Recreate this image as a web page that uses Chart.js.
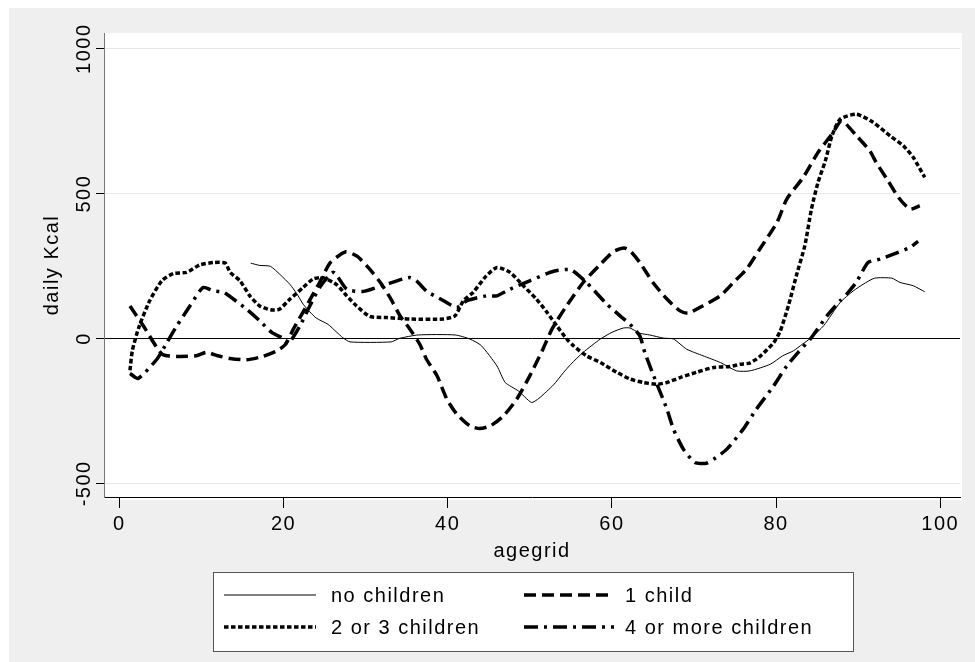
<!DOCTYPE html>
<html>
<head>
<meta charset="utf-8">
<script src="https://cdn.jsdelivr.net/npm/chart.js@4.4.0/dist/chart.umd.min.js"></script>
<style>
  html, body { margin: 0; padding: 0; background: #fff; }
  #wrap { position: relative; width: 975px; height: 662px; }
</style>
</head>
<body>
<div id="wrap"><canvas id="kcalChart"></canvas></div>
<script>
// daily Kcal by age, one pair of arrays per household group
const ageNone = [16, 17.1, 18.4, 19.6, 20.8, 21.6, 22.4, 23.2, 24, 25.4, 26.5, 27.2, 28.1, 33.1, 34.1, 36.4, 40.9, 42.7, 44.1, 46,
  47, 48.6, 50.2, 51.1, 52.9, 54.1, 55, 56.5, 58.6, 60, 61.4, 62.2, 63.4, 64.6, 66.3, 67.5, 69.1, 71.1, 73.2, 75.2,
  76.8, 79.3, 80.8, 82.1, 83.2, 84.3, 85.8, 87.8, 89.4, 90.6, 92, 94.1, 95.1, 96.7, 98.1];
const kcalNone = [260, 252, 249, 220, 186, 155, 118, 92, 70, 49, 21, 3, -12, -12, 0, 12, 12, -2, -25, -95,
  -152, -181, -221, -207, -160, -118, -89, -48, -2, 21, 36, 36, 18, 12, 1, -2, -37, -60, -83, -112,
  -112, -89, -60, -43, -20, 3, 44, 124, 164, 187, 208, 208, 193, 182, 161];

const ageOne = [1.3, 3, 5.2, 7, 9.4, 10.6, 12, 13.5, 15.5, 17.5, 19.2, 20.2, 21.2, 22.4, 24.4, 25.7, 27.6, 29, 30.5, 31.8,
  33, 34.2, 35.4, 36.6, 37.4, 38.7, 39.9, 41.1, 42.7, 43.9, 45.2, 46.8, 48.4, 50, 51.6, 52.7, 54.3, 56.5, 58.6, 60.2,
  61.5, 62.3, 63.4, 65, 66.7, 68.3, 69.3, 71.1, 73.2, 74.8, 76.4, 78, 80.1, 81.3, 83.3, 85.1, 86.8, 88, 89.8, 91.4,
  92.2, 93.5, 94.9, 96.3, 97.5];
const kcalOne = [112, 40, -54, -62, -60, -48, -60, -69, -74, -62, -43, -22, 32, 92, 193, 262, 299, 283, 239, 193,
  140, 78, 32, -20, -71, -129, -210, -261, -302, -311, -302, -267, -210, -129, -37, 32, 105, 193, 256, 300,
  312, 300, 262, 193, 136, 95, 87, 113, 147, 193, 239, 308, 400, 481, 556, 642, 705, 751, 699, 648,
  607, 550, 487, 446, 458];

const ageTwo = [1.3, 1.6, 2.4, 3.7, 5.2, 6.6, 8.2, 9.8, 11.5, 12.9, 13.5, 14.7, 15.9, 17.1, 18.4, 19.5, 20.8, 22.4, 23.6, 24.8,
  26.5, 27.7, 28.9, 30.5, 32.6, 35.4, 39.5, 40.9, 41.9, 43.1, 44.7, 46, 47.6, 49.2, 50.8, 52.1, 53.3, 54.5, 55.3, 56.9,
  58.6, 60.6, 62.2, 63.8, 65.5, 66.7, 68.3, 70.3, 72.4, 74.4, 75.6, 76.8, 78, 79.7, 80.5, 81.5, 82.5, 83.5, 84.3, 85.1,
  86, 86.8, 87.8, 89.8, 91.8, 93.9, 95.5, 96.7, 98.1];
const kcalTwo = [-110, -40, 40, 130, 200, 224, 228, 254, 262, 260, 228, 199, 147, 112, 99, 101, 136, 176, 205, 210,
  185, 147, 112, 76, 72, 67, 67, 78, 130, 159, 216, 245, 228, 182, 136, 90, 43, -2, -25, -60,
  -83, -117, -140, -152, -158, -152, -135, -117, -100, -97, -89, -85, -63, -15, 25, 113, 220, 320, 446, 538,
  613, 699, 757, 774, 746, 699, 665, 625, 556];

const ageFour = [1.3, 2.3, 4.6, 5.8, 7, 8.6, 10.2, 11.5, 12.7, 13.9, 15.5, 17.1, 18.6, 20, 20.6, 22, 23.2, 24.5, 26.1, 27.7,
  29.7, 32, 34.5, 35.4, 36.2, 37.4, 39.5, 41.1, 42.3, 44.7, 46, 47.6, 50, 52.9, 55, 56.9, 59.4, 61, 62.2, 63.4,
  64, 65, 66.7, 67.5, 68.7, 70.1, 71.5, 72.4, 74, 76, 77.6, 79.7, 81.3, 82.7, 84.3, 86.2, 87.8, 88.6, 89.8, 91.2,
  92.7, 94.3, 96.3, 97.3];
const kcalFour = [-121, -138, -71, -14, 43, 112, 176, 164, 159, 136, 101, 61, 20, 0, -18, 43, 112, 180, 228, 170,
  162, 182, 205, 210, 199, 164, 130, 107, 130, 147, 147, 170, 199, 232, 237, 193, 118, 78, 49, 9,
  -48, -123, -244, -313, -382, -428, -431, -417, -382, -313, -244, -164, -95, -48, 3, 78, 130, 153, 195, 262,
  274, 291, 314, 335];

const seriesLabels = ['no children', '1 child', '2 or 3 children', '4 or more children'];
const xTicks = [0, 20, 40, 60, 80, 100];
const yTicks = [-500, 0, 500, 1000];

const FONT = '"Liberation Sans", Arial, Helvetica, sans-serif';

function points(ages, kcal) {
    return ages.map((a, i) => ({ x: a, y: kcal[i] }));
}

// stata-ish wide letter spacing for all canvas text
const spacing = {
    id: 'spacing',
    beforeLayout(chart) { chart.ctx.letterSpacing = '1.5px'; },
    beforeDraw(chart) { chart.ctx.letterSpacing = '1.5px'; }
};

// grey graph region with a white plot region
const backdrop = {
    id: 'backdrop',
    beforeDraw(chart) {
        const ctx = chart.ctx;
        const a = chart.chartArea;
        ctx.save();
        ctx.fillStyle = '#ffffff';
        ctx.fillRect(0, 0, chart.width, chart.height);
        ctx.fillStyle = '#efefef';
        ctx.fillRect(9, 8, chart.width - 9, chart.height - 8);
        ctx.fillStyle = '#ffffff';
        ctx.fillRect(a.left, a.top, a.right - a.left + 2, a.bottom - a.top + 3);
        ctx.restore();
    }
};

// vertical y tick labels, centred on their ticks
const yLabels = {
    id: 'yLabels',
    afterDraw(chart) {
        const ctx = chart.ctx;
        const y = chart.scales.y;
        ctx.save();
        ctx.font = '20px ' + FONT;
        ctx.fillStyle = '#000';
        ctx.textAlign = 'center';
        ctx.textBaseline = 'middle';
        y.ticks.forEach(t => {
            ctx.save();
            ctx.translate(84, y.getPixelForValue(t.value));
            ctx.rotate(-Math.PI / 2);
            ctx.fillText(String(t.value), 0, 0);
            ctx.restore();
        });
        ctx.restore();
    }
};

// boxed two-column legend below the axis title
const boxLegend = {
    id: 'boxLegend',
    afterDraw(chart) {
        const ctx = chart.ctx;
        const cols = [[224, 316, 331], [524, 614, 625]];
        const rows = [595, 627];
        ctx.save();
        ctx.fillStyle = '#fff';
        ctx.fillRect(213.5, 572.5, 640, 79);
        ctx.strokeStyle = '#555';
        ctx.lineWidth = 1;
        ctx.strokeRect(213.5, 572.5, 640, 79);
        chart.data.datasets.forEach((ds, i) => {
            const [x0, x1, tx] = cols[i % 2];
            const ry = rows[Math.floor(i / 2)];
            ctx.beginPath();
            ctx.setLineDash(ds.borderDash || []);
            ctx.lineWidth = ds.borderWidth;
            ctx.strokeStyle = ds.borderColor;
            ctx.moveTo(x0, ry);
            ctx.lineTo(x1, ry);
            ctx.stroke();
            ctx.setLineDash([]);
            ctx.fillStyle = '#000';
            ctx.font = '20px ' + FONT;
            ctx.textAlign = 'left';
            ctx.textBaseline = 'middle';
            ctx.fillText(ds.label, tx, ry + 1);
        });
        ctx.restore();
    }
};

new Chart(document.getElementById('kcalChart'), {
    type: 'line',
    data: {
        datasets: [
            { label: seriesLabels[0], data: points(ageNone, kcalNone), borderColor: '#000', borderWidth: 1, borderDash: [], order: 4 },
            { label: seriesLabels[1], data: points(ageOne, kcalOne), borderColor: '#000', borderWidth: 3.5, borderDash: [12, 6], order: 3 },
            { label: seriesLabels[2], data: points(ageTwo, kcalTwo), borderColor: '#000', borderWidth: 3.5, borderDash: [4.5, 2.5], order: 2 },
            { label: seriesLabels[3], data: points(ageFour, kcalFour), borderColor: '#000', borderWidth: 3.5, borderDash: [14, 6, 3, 6], order: 1 }
        ]
    },
    options: {
        responsive: true,
        maintainAspectRatio: false,
        animation: false,
        layout: { padding: { left: 0, top: 33, right: 15, bottom: 99 } },
        plugins: {
            legend: { display: false },
            tooltip: { enabled: false }
        },
        elements: {
            point: { radius: 0 },
            line: { tension: 0.2, fill: false }
        },
        scales: {
            x: {
                type: 'linear',
                min: -1.864,
                max: 102.4,
                afterBuildTicks: s => { s.ticks = xTicks.map(v => ({ value: v })); },
                afterFit: s => { s.height = 66; },
                grid: { drawOnChartArea: false, drawTicks: true, tickLength: 11, tickColor: '#000', tickWidth: 1 },
                border: { display: true, color: '#000', width: 1 },
                ticks: { color: '#000', font: { family: FONT, size: 20 }, padding: 4, maxRotation: 0, autoSkip: false },
                title: { display: true, text: 'agegrid', color: '#000', font: { family: FONT, size: 20 }, padding: { top: 0, bottom: 0 } }
            },
            y: {
                type: 'linear',
                min: -547.3,
                max: 1054.2,
                afterBuildTicks: s => { s.ticks = yTicks.map(v => ({ value: v })); },
                afterFit: s => { s.width = 104; },
                grid: {
                    color: c => (c.tick && c.tick.value === 0 ? '#000' : '#e6e6e6'),
                    lineWidth: 1,
                    drawTicks: true,
                    tickLength: 8,
                    tickColor: '#000'
                },
                border: { display: true, color: '#777', width: 1 },
                ticks: { display: false },
                title: { display: true, text: 'daily Kcal', color: '#000', font: { family: FONT, size: 20 }, padding: { top: 40, bottom: 0 } }
            }
        }
    },
    plugins: [spacing, backdrop, yLabels, boxLegend]
});
</script>
</body>
</html>
